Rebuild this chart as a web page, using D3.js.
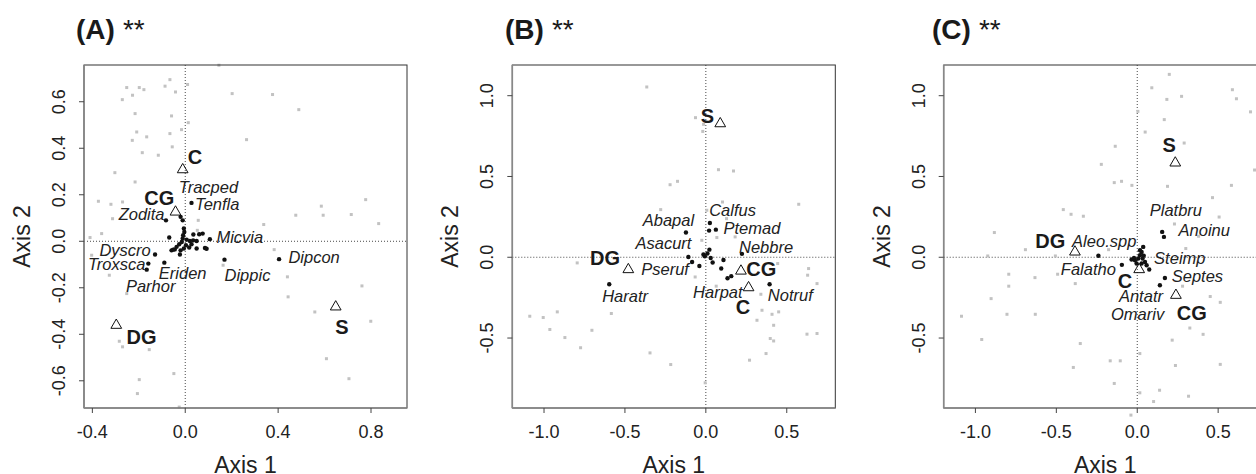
<!DOCTYPE html>
<html>
<head>
<meta charset="utf-8">
<script src="https://cdn.jsdelivr.net/npm/d3@7"></script>
<style>
  body { margin: 0; background: #fff; }
  svg { display: block; font-family: "Liberation Sans", Arial, sans-serif; }
</style>
</head>
<body>
<svg id="chart" width="1256" height="474"></svg>
<script>
// tick values
const ticksXA = [-0.4, 0.0, 0.4, 0.8];
const ticksYA = [-0.6, -0.4, -0.2, 0.0, 0.2, 0.4, 0.6];
const ticksXB = [-1.0, -0.5, 0.0, 0.5];
const ticksYB = [-0.5, 0.0, 0.5, 1.0];

// (A) site scores (grey squares)
const sitesA = [
  [0.145,0.757],[-0.066,0.695],[0.010,0.674],[-0.252,0.661],[-0.198,0.661],[-0.178,0.652],
  [-0.087,0.667],[-0.042,0.642],[0.202,0.635],[0.376,0.631],[-0.271,0.609],[-0.227,0.628],
  [0.489,0.566],[-0.216,0.549],[-0.059,0.539],[0.013,0.510],[-0.016,0.480],[-0.209,0.470],
  [-0.166,0.449],[-0.066,0.463],[0.264,0.437],[-0.228,0.434],[-0.056,0.406],[-0.185,0.381],
  [-0.116,0.370],[-0.303,0.295],[-0.216,0.255],[-0.374,0.172],[-0.320,0.159],[-0.270,0.169],
  [0.777,0.179],[0.586,0.151],[0.594,0.112],[0.476,0.112],[0.715,0.115],[0.833,0.076],
  [-0.313,0.097],[0.056,0.090],[0.338,0.072],[-0.360,0.033],[-0.410,0.016],[0.383,-0.036],
  [-0.403,-0.060],[-0.327,-0.146],[-0.252,-0.225],[0.440,-0.153],[0.761,-0.192],[0.443,-0.239],
  [0.558,-0.304],[0.799,-0.344],[-0.284,-0.430],[-0.270,-0.454],[-0.155,-0.466],[0.608,-0.505],
  [-0.049,-0.569],[-0.198,-0.595],[0.705,-0.591],[-0.206,-0.655],[-0.026,-0.713],[0.163,-0.103],
  [0.052,0.047]
];
// (A) species scores (black dots)
const speciesA = [
  [0.027,0.165],[-0.083,0.090],[-0.011,0.090],[-0.020,0.105],[-0.069,0.016],[0.035,0.029],
  [0.075,0.033],[0.106,0.009],[0.049,-0.031],[0.085,-0.029],[0.017,-0.027],[-0.023,-0.057],
  [-0.059,-0.039],[-0.045,-0.035],[-0.130,-0.057],[-0.090,-0.092],[-0.159,-0.096],[-0.166,-0.122],
  [0.169,-0.079],[0.404,-0.077],[-0.006,0.055],[-0.004,0.040],[-0.009,0.026],[-0.011,0.012],
  [-0.015,-0.003],[-0.026,-0.013],[-0.037,-0.024],[-0.052,-0.036],[0.006,0.007],[0.020,0.001],
  [0.034,0.004],[0.049,0.001],[0.003,-0.017],[-0.006,-0.031],[-0.020,-0.039],[0.027,-0.013],
  [0.060,0.030],[0.092,-0.032]
];
// (A) species names, placed where they sit on the plot
const speciesLabelsA = [
  ["Tracped",0.100,0.231],["Tenfla",0.138,0.162],["Zodita",-0.188,0.119],["Micvia",0.235,0.019],
  ["Dyscro",-0.259,-0.036],["Troxsca",-0.295,-0.096],["Eriden",-0.011,-0.135],["Parhor",-0.149,-0.192],
  ["Dippic",0.268,-0.146],["Dipcon",0.555,-0.067]
];
// (A) group centroids: name, x, y, label x, label y
const groupsA = [
  ["C",-0.011,0.308,0.042,0.363],["CG",-0.042,0.126,-0.112,0.188],
  ["DG",-0.297,-0.361,-0.188,-0.409],["S",0.648,-0.282,0.675,-0.366]
];

// (B)
const sitesB = [
  [-0.365,1.054],[-0.064,0.864],[-0.019,0.779],[-0.014,0.823],[0.078,0.542],[0.171,0.534],
  [-0.221,0.449],[-0.175,0.470],[0.103,0.342],[0.574,0.328],[-0.279,0.295],[0.006,0.291],
  [-0.025,0.105],[0.068,0.122],[0.181,0.126],[-0.795,-0.035],[-0.066,-0.122],[0.064,-0.179],
  [0.444,-0.039],[0.635,-0.070],[0.629,-0.111],[0.687,-0.163],[0.340,-0.229],[0.347,-0.328],
  [0.409,-0.353],[0.450,-0.338],[0.419,-0.421],[0.316,-0.390],[0.398,-0.503],[0.419,-0.518],
  [0.372,-0.596],[0.270,-0.637],[0.625,-0.476],[0.687,-0.472],[-0.584,-0.348],[-1.088,-0.365],
  [-1.005,-0.373],[-0.918,-0.338],[-0.964,-0.447],[-0.871,-0.497],[-0.704,-0.452],[-0.774,-0.560],
  [-0.345,-0.592],[-0.217,-0.664],[-0.004,-0.777],[0.128,0.239]
];
const speciesB = [
  [-0.123,0.153],[0.025,0.212],[0.020,0.165],[0.062,0.171],[0.022,0.047],[-0.015,0.017],
  [0.010,0.023],[-0.006,0.006],[-0.108,0.002],[-0.085,-0.029],[-0.040,-0.054],[0.042,-0.032],
  [0.109,-0.017],[0.095,-0.070],[0.134,-0.130],[0.157,-0.117],[0.223,0.021],[-0.597,-0.167],
  [0.394,-0.167],[0.030,-0.005]
];
const speciesLabelsB = [
  ["Calfus",0.165,0.295],["Abapal",-0.231,0.233],["Ptemad",0.285,0.181],["Asacurt",-0.262,0.085],
  ["Nebbre",0.372,0.064],["Pseruf",-0.252,-0.070],["Haratr",-0.499,-0.239],["Harpat",0.074,-0.214],
  ["Notruf",0.522,-0.235]
];
const groupsB = [
  ["S",0.089,0.827,0.010,0.878],["DG",-0.479,-0.076,-0.623,-0.004],
  ["CG",0.217,-0.085,0.343,-0.070],["C",0.264,-0.188,0.229,-0.307]
];

// (C)
const sitesC = [
  [0.198,1.132],[0.090,1.049],[0.588,1.037],[0.613,0.981],[0.183,0.977],[0.274,0.996],
  [0.700,0.900],[0.004,0.903],[0.167,0.852],[0.049,0.775],[-0.136,0.687],[0.290,0.707],
  [-0.222,0.575],[-0.142,0.462],[-0.097,0.470],[-0.033,0.445],[0.187,0.439],[0.582,0.445],
  [0.725,0.540],[0.465,0.369],[0.506,0.249],[-0.457,0.295],[-0.409,0.266],[-0.333,0.254],
  [-0.883,0.153],[-0.691,0.047],[-0.924,0.008],[-0.506,0.008],[-0.177,0.047],[0.033,0.064],
  [0.230,0.206],[0.379,0.130],[0.300,0.054],[-0.794,-0.105],[-0.632,-0.126],[-0.492,-0.105],
  [-0.383,-0.163],[-0.794,-0.179],[-0.903,-0.256],[-0.805,-0.353],[-0.630,-0.353],[-1.086,-0.365],
  [0.280,-0.179],[0.451,-0.243],[0.513,-0.279],[0.325,-0.438],[0.407,-0.477],[0.216,-0.513],
  [-0.961,-0.509],[-0.352,-0.534],[-0.395,-0.682],[-0.167,-0.641],[-0.105,-0.641],[-0.142,-0.781],
  [0.016,-0.596],[0.236,-0.670],[0.513,-0.663],[0.138,-0.823],[0.016,-0.839],[0.101,-0.893],
  [0.317,-0.860],[-0.039,-0.977]
];
const speciesC = [
  [0.154,0.157],[0.165,0.126],[-0.240,0.009],[-0.095,-0.047],[0.037,0.064],[0.027,0.033],
  [0.017,0.012],[0.006,-0.008],[-0.014,-0.019],[-0.035,-0.014],[-0.004,-0.039],[0.027,-0.039],
  [0.048,-0.029],[0.058,-0.049],[0.074,-0.076],[0.033,-0.008],[0.017,0.043],[0.171,-0.128],
  [0.140,-0.173],[0.040,0.010],[-0.020,-0.005]
];
const speciesLabelsC = [
  ["Platbru",0.239,0.291],["Anoinu",0.414,0.167],["Aleo.spp",-0.204,0.101],["Steimp",0.263,-0.008],
  ["Falatho",-0.302,-0.070],["Septes",0.372,-0.118],["Antatr",0.023,-0.241],["Omariv",0.002,-0.353]
];
const groupsC = [
  ["S",0.235,0.584,0.198,0.699],["DG",-0.385,0.033,-0.537,0.101],
  ["C",0.012,-0.076,-0.076,-0.148],["CG",0.239,-0.235,0.337,-0.342]
];

// panel layout
const boxTop = 65, boxBottom = 408, boxWidth = 323;
const panels = [
  { title: "(A)", left: 84,    titleX: 76,  xDomain: [-0.436, 0.955], yDomain: [-0.717, 0.758],
    xTicks: ticksXA, yTicks: ticksYA, sites: sitesA, species: speciesA, labels: speciesLabelsA, groups: groupsA },
  { title: "(B)", left: 512.3, titleX: 505, xDomain: [-1.196, 0.80], yDomain: [-0.933, 1.19],
    xTicks: ticksXB, yTicks: ticksYB, sites: sitesB, species: speciesB, labels: speciesLabelsB, groups: groupsB },
  { title: "(C)", left: 943.7, titleX: 932, xDomain: [-1.196, 0.80], yDomain: [-0.933, 1.19],
    xTicks: ticksXB, yTicks: ticksYB, sites: sitesC, species: speciesC, labels: speciesLabelsC, groups: groupsC }
];

const svg = d3.select('#chart');
const fmt = d => d.toFixed(1).replace('\u2212', '-');
const tri = d3.symbol().type(d3.symbolTriangle).size(50);

panels.forEach(p => {
  const x = d3.scaleLinear().domain(p.xDomain).range([p.left, p.left + boxWidth]);
  const y = d3.scaleLinear().domain(p.yDomain).range([boxBottom, boxTop]);
  const g = svg.append('g');

  // title
  const t = g.append('text')
    .attr('x', p.titleX).attr('y', 39)
    .attr('font-size', 28).attr('fill', '#1a1a1a');
  t.append('tspan').attr('font-weight', 'bold').text(p.title);
  t.append('tspan').attr('dx', 8).text('**');

  // zero lines
  g.append('line')
    .attr('x1', x(0)).attr('x2', x(0)).attr('y1', boxTop).attr('y2', boxBottom)
    .attr('stroke', '#333').attr('stroke-width', 0.9).attr('stroke-dasharray', '1,2');
  g.append('line')
    .attr('x1', p.left).attr('x2', p.left + boxWidth).attr('y1', y(0)).attr('y2', y(0))
    .attr('stroke', '#333').attr('stroke-width', 0.9).attr('stroke-dasharray', '1,2');

  // grey site squares
  g.selectAll('rect.site').data(p.sites).enter().append('rect')
    .attr('class', 'site')
    .attr('x', d => x(d[0]) - 1.5).attr('y', d => y(d[1]) - 1.5)
    .attr('width', 3).attr('height', 3)
    .attr('fill', '#c2c2c2');

  // species dots
  g.selectAll('circle.sp').data(p.species).enter().append('circle')
    .attr('class', 'sp')
    .attr('cx', d => x(d[0])).attr('cy', d => y(d[1]))
    .attr('r', 2.2).attr('fill', '#111');

  // species names
  g.selectAll('text.sp').data(p.labels).enter().append('text')
    .attr('class', 'sp')
    .attr('x', d => x(d[1])).attr('y', d => y(d[2]))
    .attr('dy', '0.36em')
    .attr('text-anchor', 'middle')
    .attr('font-size', 16.5).attr('font-style', 'italic').attr('fill', '#222')
    .text(d => d[0]);

  // group centroids
  g.selectAll('path.grp').data(p.groups).enter().append('path')
    .attr('class', 'grp')
    .attr('d', tri)
    .attr('transform', d => `translate(${x(d[1])},${y(d[2])})`)
    .attr('fill', 'none').attr('stroke', '#111').attr('stroke-width', 1);
  g.selectAll('text.grp').data(p.groups).enter().append('text')
    .attr('class', 'grp')
    .attr('x', d => x(d[3])).attr('y', d => y(d[4]))
    .attr('dy', '0.36em')
    .attr('text-anchor', 'middle')
    .attr('font-size', 20).attr('font-weight', 'bold').attr('fill', '#1a1a1a')
    .text(d => d[0]);

  // box
  g.append('rect')
    .attr('x', p.left).attr('y', boxTop).attr('width', boxWidth).attr('height', boxBottom - boxTop)
    .attr('fill', 'none').attr('stroke', '#333').attr('stroke-width', 1);
  g.append('line')
    .attr('x1', p.left).attr('x2', p.left).attr('y1', boxTop).attr('y2', boxBottom)
    .attr('stroke', '#888').attr('stroke-width', 1.6);
  g.append('line')
    .attr('x1', p.left).attr('x2', p.left + boxWidth).attr('y1', boxBottom).attr('y2', boxBottom)
    .attr('stroke', '#888').attr('stroke-width', 1.6);

  // x axis
  g.selectAll('line.xt').data(p.xTicks).enter().append('line')
    .attr('x1', d => x(d)).attr('x2', d => x(d)).attr('y1', boxBottom).attr('y2', boxBottom + 5)
    .attr('stroke', '#444');
  g.selectAll('text.xt').data(p.xTicks).enter().append('text')
    .attr('x', d => x(d)).attr('y', 438)
    .attr('text-anchor', 'middle').attr('font-size', 18).attr('fill', '#222')
    .text(fmt);

  // y axis
  g.selectAll('line.yt').data(p.yTicks).enter().append('line')
    .attr('x1', p.left - 5).attr('x2', p.left).attr('y1', d => y(d)).attr('y2', d => y(d))
    .attr('stroke', '#444');
  g.selectAll('text.yt').data(p.yTicks).enter().append('text')
    .attr('transform', d => `translate(${p.left - 19},${y(d)}) rotate(-90)`)
    .attr('text-anchor', 'middle').attr('font-size', 18).attr('fill', '#222')
    .text(fmt);

  // axis titles
  g.append('text')
    .attr('x', p.left + boxWidth / 2).attr('y', 473)
    .attr('text-anchor', 'middle').attr('font-size', 23).attr('fill', '#222')
    .text('Axis 1');
  g.append('text')
    .attr('transform', `translate(${p.left - 54},${(boxTop + boxBottom) / 2}) rotate(-90)`)
    .attr('text-anchor', 'middle').attr('font-size', 23).attr('fill', '#222')
    .text('Axis 2');
});
</script>
</body>
</html>
